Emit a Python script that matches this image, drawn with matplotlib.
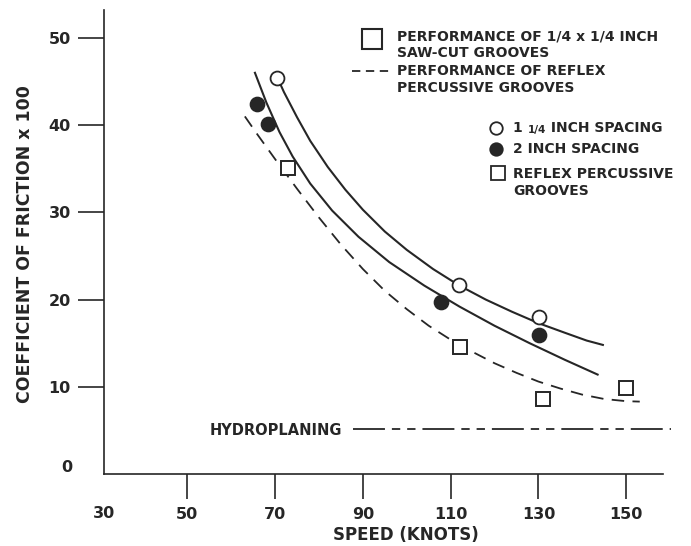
import matplotlib
matplotlib.use('Agg')
import matplotlib.pyplot as plt

# measured points (speed in knots, coefficient of friction x 100)
spacing_114_x = [70.4, 111.9, 130.1]
spacing_114_y = [45.4, 21.7, 18.0]
spacing_2_x = [65.9, 68.4, 107.8, 130.1]
spacing_2_y = [42.4, 40.1, 19.7, 15.9]
reflex_x = [72.9, 112.1, 131.0, 149.9]
reflex_y = [35.1, 14.6, 8.6, 9.9]

# curves
curve_114_x = [70.2, 72, 75, 78, 82, 86, 90, 95, 100, 106, 112, 118, 124, 130, 136, 141, 144.7]
curve_114_y = [45.8, 43.8, 40.9, 38.2, 35.2, 32.6, 30.3, 27.8, 25.7, 23.5, 21.6, 20.0, 18.6, 17.3, 16.2, 15.3, 14.8]
curve_2_x = [65.4, 68, 71, 74, 78, 83, 89, 96, 104, 112, 120, 128, 136, 143.5]
curve_2_y = [46.0, 42.6, 39.2, 36.4, 33.3, 30.2, 27.2, 24.3, 21.6, 19.2, 17.0, 15.0, 13.1, 11.4]
curve_reflex_x = [63.1, 66, 70, 75, 80, 85, 90, 95, 100, 105, 110, 115, 120, 125, 130, 135, 140, 145, 150, 153.1]
curve_reflex_y = [41.0, 38.9, 36.1, 32.7, 29.4, 26.3, 23.5, 21.0, 18.9, 17.0, 15.4, 14.0, 12.7, 11.6, 10.6, 9.8, 9.1, 8.6, 8.35, 8.3]

hydro_x = [87.8, 160.3]
hydro_y = [5.2, 5.2]

x_ticks = [50, 70, 90, 110, 130, 150]
y_ticks = [10, 20, 30, 40, 50]

ink = '#262626'
plt.rcParams['font.family'] = ['DejaVu Sans']
plt.rcParams['font.weight'] = 'bold'
plt.rcParams['lines.scale_dashes'] = False

fig = plt.figure(figsize=(6.91, 5.46), dpi=100)
ax = fig.add_axes([104 / 691, 72 / 546, 559 / 691, 464 / 546])
ax.set_xlim(31, 158.4)
ax.set_ylim(0, 53.2)

for s in ['top', 'right']:
    ax.spines[s].set_visible(False)
for s in ['left', 'bottom']:
    ax.spines[s].set_color(ink)
    ax.spines[s].set_linewidth(1.2)

tick_fs = 11.5
ax.set_xticks(x_ticks)
ax.set_yticks(y_ticks)
ax.tick_params(axis='x', direction='out', length=18, width=1.2, color=ink,
               pad=6, labelsize=tick_fs, labelcolor=ink)
ax.tick_params(axis='y', direction='out', length=19, width=1.2, color=ink,
               pad=5, labelsize=tick_fs, labelcolor=ink)
for lab in ax.get_xticklabels() + ax.get_yticklabels():
    lab.set_fontweight('bold')

# the "30" and "0" at the corner have no tick marks
ax.text(31, -39 / 464 * 53.2, '30', ha='center', va='center', fontsize=tick_fs,
        color=ink, fontweight='bold', clip_on=False)
ax.text(31 - 37 / 4.388, 6 / 8.72, '0', ha='center', va='center', fontsize=tick_fs,
        color=ink, fontweight='bold', clip_on=False)

fig.text(406 / 691, 1 - 535 / 546, 'SPEED (KNOTS)', ha='center', va='center',
         fontsize=12, color=ink, fontweight='bold')
fig.text(25 / 691, 1 - 244 / 546, 'COEFFICIENT OF FRICTION x 100', ha='center',
         va='center', rotation=90, fontsize=12.5, color=ink, fontweight='bold')

# curves
ax.plot(curve_114_x, curve_114_y, color=ink, lw=1.5)
ax.plot(curve_2_x, curve_2_y, color=ink, lw=1.5)
ax.plot(curve_reflex_x, curve_reflex_y, color=ink, lw=1.3, linestyle=(0, (9, 6)),
        clip_on=False)

# points
ax.plot(spacing_114_x, spacing_114_y, 'o', ms=10, mfc='white', mec=ink, mew=1.3)
ax.plot(spacing_2_x, spacing_2_y, 'o', ms=10, mfc=ink, mec=ink, mew=1.3)
ax.plot(reflex_x, reflex_y, 's', ms=10.5, mfc='white', mec=ink, mew=1.4)

# hydroplaning line
ax.plot(hydro_x, hydro_y, color=ink, lw=1.3, clip_on=False,
        linestyle=(0, (23, 5, 6, 5, 6, 5)))
ax.text(85.2, 5.0, 'HYDROPLANING', ha='right', va='center', fontsize=10.5,
        color=ink, fontweight='bold')

# key at the top
fs = 10
ax.plot([92.1], [49.9], 's', ms=14, mfc='white', mec=ink, mew=1.5, clip_on=False)
ax.text(97.8, 50.2, 'PERFORMANCE OF 1/4 x 1/4 INCH', fontsize=fs, color=ink,
        va='center', fontweight='bold')
ax.text(97.8, 48.3, 'SAW-CUT GROOVES', fontsize=fs, color=ink, va='center',
        fontweight='bold')
ax.plot([87.5, 96.9], [46.2, 46.2], color=ink, lw=1.3, linestyle=(0, (6, 4)))
ax.text(97.8, 46.2, 'PERFORMANCE OF REFLEX', fontsize=fs, color=ink, va='center',
        fontweight='bold')
ax.text(97.8, 44.3, 'PERCUSSIVE GROOVES', fontsize=fs, color=ink, va='center',
        fontweight='bold')

ax.plot([120.3], [39.7], 'o', ms=9, mfc='white', mec=ink, mew=1.3)
t1 = ax.text(124.2, 39.7, '1 ', fontsize=fs, color=ink, va='center', fontweight='bold')
t2 = ax.annotate('1/4', xy=(1, 0), xycoords=t1, va='bottom', fontsize=7.5,
                 color=ink, fontweight='bold')
ax.annotate(' INCH SPACING', xy=(1, 0), xycoords=t2, va='bottom', fontsize=fs,
            color=ink, fontweight='bold')
ax.plot([120.3], [37.3], 'o', ms=9, mfc=ink, mec=ink, mew=1.3)
ax.text(124.2, 37.3, '2 INCH SPACING', fontsize=fs, color=ink, va='center',
        fontweight='bold')
ax.plot([120.8], [34.5], 's', ms=9.5, mfc='white', mec=ink, mew=1.3)
ax.text(124.2, 34.4, 'REFLEX PERCUSSIVE', fontsize=fs, color=ink, va='center',
        fontweight='bold')
ax.text(124.2, 32.4, 'GROOVES', fontsize=fs, color=ink, va='center',
        fontweight='bold')

fig.savefig('out.png', dpi=100)
